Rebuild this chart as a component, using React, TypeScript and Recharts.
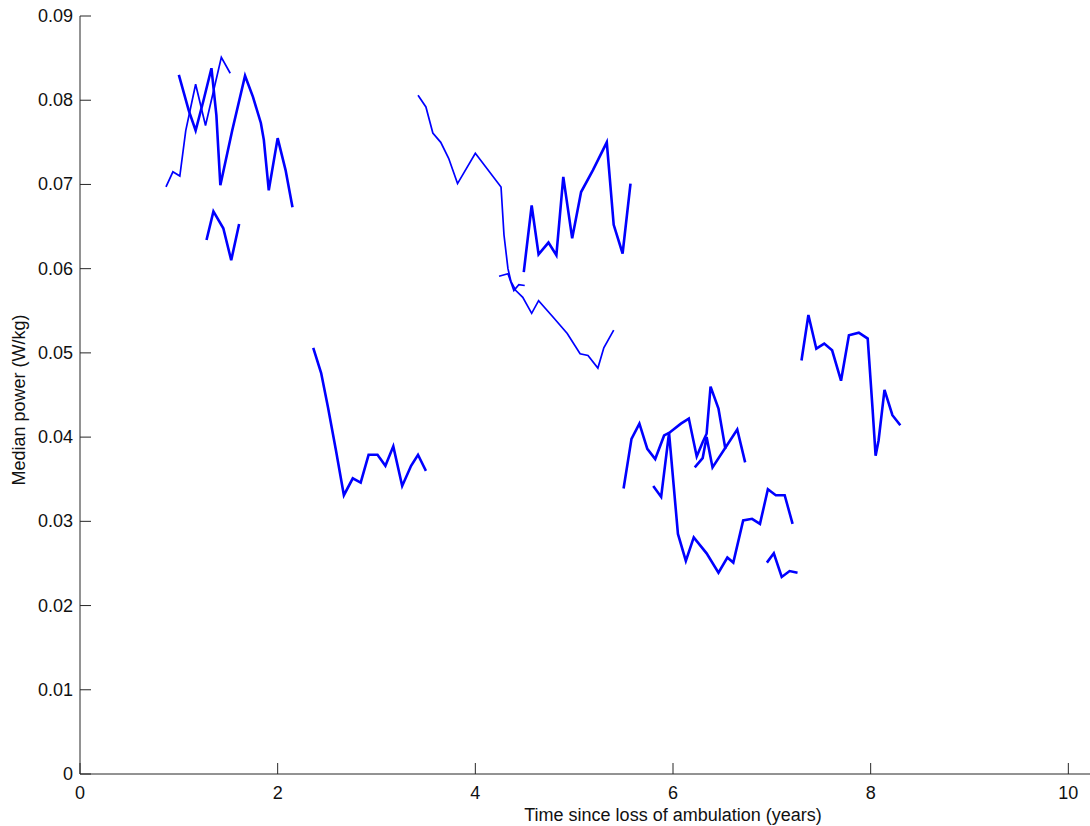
import React from 'react';
import { LineChart, Line, XAxis, YAxis } from 'recharts';

// Median power per subject, plotted against years since loss of ambulation.
const subjectAYears = [0.87, 0.94, 1.01, 1.07, 1.17, 1.27, 1.43, 1.52];
const subjectAPower = [0.0697, 0.0715, 0.071, 0.0764, 0.0819, 0.077, 0.0851, 0.0832];

const subjectBYears = [1.0, 1.1, 1.17, 1.25, 1.33, 1.38, 1.42, 1.54, 1.67, 1.75, 1.83, 1.86, 1.91, 2.0, 2.08, 2.15];
const subjectBPower = [0.083, 0.0788, 0.0764, 0.08, 0.0838, 0.0782, 0.0699, 0.0764, 0.0829, 0.0804, 0.0773, 0.0753, 0.0693, 0.0755, 0.0717, 0.0673];

const subjectCYears = [1.28, 1.35, 1.45, 1.53, 1.61];
const subjectCPower = [0.0634, 0.0668, 0.0648, 0.061, 0.0653];

const subjectDYears = [2.36, 2.44, 2.51, 2.59, 2.67, 2.76, 2.84, 2.92, 3.01, 3.09, 3.17, 3.26, 3.35, 3.42, 3.5];
const subjectDPower = [0.0506, 0.0476, 0.0435, 0.0384, 0.0331, 0.0351, 0.0346, 0.0379, 0.0379, 0.0366, 0.0389, 0.0342, 0.0366, 0.0379, 0.036];

const subjectEYears = [3.42, 3.5, 3.57, 3.65, 3.73, 3.82, 4.0, 4.26, 4.29, 4.33, 4.36, 4.41, 4.48, 4.57, 4.64, 4.79, 4.93, 5.06, 5.14, 5.24, 5.3, 5.4];
const subjectEPower = [0.0806, 0.0792, 0.0761, 0.075, 0.0731, 0.0701, 0.0737, 0.0697, 0.064, 0.06, 0.0585, 0.0574, 0.0566, 0.0547, 0.0562, 0.0542, 0.0523, 0.0499, 0.0497, 0.0482, 0.0506, 0.0527];

const subjectFYears = [4.24, 4.33, 4.39, 4.44, 4.5];
const subjectFPower = [0.0591, 0.0594, 0.0574, 0.0581, 0.058];

const subjectGYears = [4.49, 4.57, 4.64, 4.74, 4.82, 4.89, 4.98, 5.07, 5.19, 5.33, 5.4, 5.49, 5.57];
const subjectGPower = [0.0596, 0.0675, 0.0617, 0.0631, 0.0616, 0.0709, 0.0636, 0.0691, 0.0717, 0.075, 0.0652, 0.0618, 0.0701];

const subjectHYears = [5.5, 5.58, 5.66, 5.74, 5.82, 5.91, 5.96, 6.08, 6.16, 6.24, 6.3, 6.34, 6.38, 6.46, 6.53];
const subjectHPower = [0.0339, 0.0398, 0.0416, 0.0386, 0.0374, 0.0402, 0.0405, 0.0416, 0.0422, 0.0377, 0.0394, 0.0404, 0.046, 0.0434, 0.0386];

const subjectIYears = [6.22, 6.3, 6.34, 6.4, 6.65, 6.73];
const subjectIPower = [0.0364, 0.0375, 0.04, 0.0364, 0.0409, 0.037];

const subjectJYears = [5.8, 5.88, 5.96, 6.05, 6.13, 6.21, 6.34, 6.46, 6.55, 6.61, 6.71, 6.8, 6.88, 6.96, 7.04, 7.13, 7.21];
const subjectJPower = [0.0342, 0.0329, 0.0405, 0.0285, 0.0253, 0.0281, 0.0262, 0.0239, 0.0257, 0.0251, 0.0301, 0.0303, 0.0297, 0.0338, 0.0331, 0.0331, 0.0297];

const subjectKYears = [6.95, 7.02, 7.1, 7.18, 7.26];
const subjectKPower = [0.0251, 0.0262, 0.0234, 0.0241, 0.0239];

const subjectLYears = [7.3, 7.37, 7.45, 7.53, 7.61, 7.7, 7.78, 7.88, 7.97, 8.02, 8.05, 8.08, 8.14, 8.22, 8.3];
const subjectLPower = [0.0491, 0.0545, 0.0505, 0.0511, 0.0503, 0.0467, 0.0521, 0.0524, 0.0517, 0.0432, 0.0378, 0.0396, 0.0456, 0.0426, 0.0414];

const xDomain = [0, 12];
const xTicks = [0, 2, 4, 6, 8, 10];
const yTicks = [0, 0.01, 0.02, 0.03, 0.04, 0.05, 0.06, 0.07, 0.08, 0.09];
const yTickLabels = ['0', '0.01', '0.02', '0.03', '0.04', '0.05', '0.06', '0.07', '0.08', '0.09'];

const xAxisTitle = 'Time since loss of ambulation (years)';
const yAxisTitle = 'Median power (W/kg)';

type Point = { x: number; y: number };
const toPoints = (years: number[], power: number[]): Point[] =>
  years.map((x, i) => ({ x, y: power[i] }));

const THICK = 2.6;
const THIN = 1.7;

const subjects = [
  { id: 'A', data: toPoints(subjectAYears, subjectAPower), width: THIN },
  { id: 'B', data: toPoints(subjectBYears, subjectBPower), width: THICK },
  { id: 'C', data: toPoints(subjectCYears, subjectCPower), width: THICK },
  { id: 'D', data: toPoints(subjectDYears, subjectDPower), width: THICK },
  { id: 'E', data: toPoints(subjectEYears, subjectEPower), width: THIN },
  { id: 'F', data: toPoints(subjectFYears, subjectFPower), width: THIN },
  { id: 'G', data: toPoints(subjectGYears, subjectGPower), width: THICK },
  { id: 'H', data: toPoints(subjectHYears, subjectHPower), width: THICK },
  { id: 'I', data: toPoints(subjectIYears, subjectIPower), width: THICK },
  { id: 'J', data: toPoints(subjectJYears, subjectJPower), width: THICK },
  { id: 'K', data: toPoints(subjectKYears, subjectKPower), width: THICK },
  { id: 'L', data: toPoints(subjectLYears, subjectLPower), width: THICK },
];

const FONT = '"Liberation Sans", Arial, Helvetica, sans-serif';
const FONT_SIZE = 18;
const AXIS_COLOR = '#262626';
const TEXT_COLOR = '#111111';
const TICK_LEN = 11;

const CHART_W = 1266;
const CHART_H = 826;
const X_AXIS_H = 52;
const MARGIN = { top: 16, right: 0, bottom: 0, left: 0 };
const Y_AXIS_W = 80;
const AXIS_X = MARGIN.left + Y_AXIS_W;
const AXIS_Y = CHART_H - MARGIN.bottom - X_AXIS_H;

const XTick = (props: any) => {
  const { x, index } = props;
  return (
    <g>
      <line x1={x} x2={x} y1={AXIS_Y} y2={AXIS_Y - TICK_LEN} stroke={AXIS_COLOR} strokeWidth={1} />
      <text
        x={x}
        y={AXIS_Y + 19}
        textAnchor="middle"
        dominantBaseline="central"
        fontFamily={FONT}
        fontSize={FONT_SIZE}
        fill={TEXT_COLOR}
      >
        {String(xTicks[index])}
      </text>
    </g>
  );
};

const YTick = (props: any) => {
  const { y, index } = props;
  return (
    <g>
      <line x1={AXIS_X} x2={AXIS_X + TICK_LEN} y1={y} y2={y} stroke={AXIS_COLOR} strokeWidth={1} />
      <text
        x={AXIS_X - 7}
        y={y}
        textAnchor="end"
        dominantBaseline="central"
        fontFamily={FONT}
        fontSize={FONT_SIZE}
        fill={TEXT_COLOR}
      >
        {yTickLabels[index]}
      </text>
    </g>
  );
};

const XTitle = (props: any) => {
  const vb = props.viewBox || {};
  const cx = vb.x + vb.width / 2;
  return (
    <text
      x={cx}
      y={AXIS_Y + 41}
      textAnchor="middle"
      dominantBaseline="central"
      fontFamily={FONT}
      fontSize={FONT_SIZE}
      fill={TEXT_COLOR}
    >
      {xAxisTitle}
    </text>
  );
};

const YTitle = (props: any) => {
  const vb = props.viewBox || {};
  const cy = vb.y + vb.height / 2 + 5;
  const cx = 19;
  return (
    <text
      x={cx}
      y={cy}
      transform={`rotate(-90, ${cx}, ${cy})`}
      textAnchor="middle"
      dominantBaseline="central"
      fontFamily={FONT}
      fontSize={FONT_SIZE}
      fill={TEXT_COLOR}
    >
      {yAxisTitle}
    </text>
  );
};

export default function App() {
  return (
    <div
      style={{
        position: 'absolute',
        left: 0,
        top: 0,
        width: 1090,
        height: 826,
        overflow: 'hidden',
        background: '#ffffff',
      }}
    >
      <LineChart width={CHART_W} height={CHART_H} margin={MARGIN}>
        <XAxis
          type="number"
          dataKey="x"
          domain={xDomain}
          ticks={xTicks}
          interval={0}
          allowDataOverflow
          axisLine={{ stroke: AXIS_COLOR, strokeWidth: 1 }}
          tickLine={false}
          tick={<XTick />}
          height={X_AXIS_H}
          label={<XTitle />}
        />
        <YAxis
          type="number"
          dataKey="y"
          domain={[0, 0.09]}
          ticks={yTicks}
          interval={0}
          allowDataOverflow
          width={Y_AXIS_W}
          axisLine={{ stroke: AXIS_COLOR, strokeWidth: 1 }}
          tickLine={false}
          tick={<YTick />}
          label={<YTitle />}
        />
        {subjects.map((s) => (
          <Line
            key={s.id}
            data={s.data}
            dataKey="y"
            type="linear"
            stroke="#0000ff"
            strokeWidth={s.width}
            dot={false}
            activeDot={false}
            isAnimationActive={false}
          />
        ))}
      </LineChart>
    </div>
  );
}
